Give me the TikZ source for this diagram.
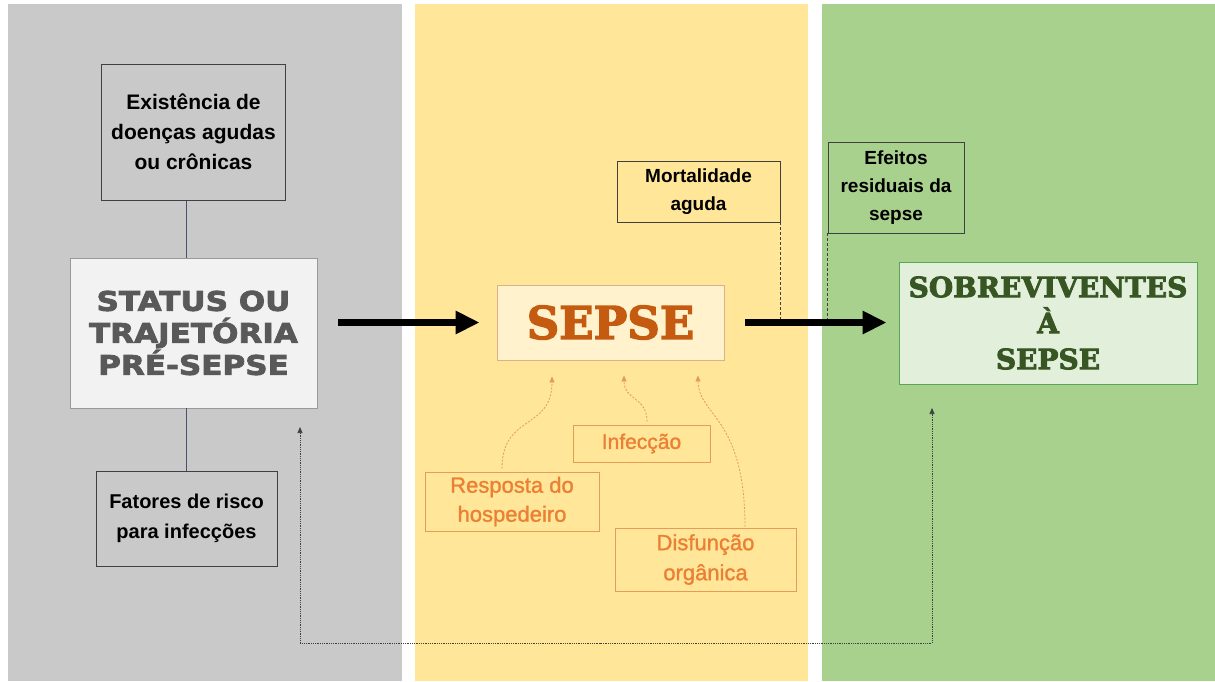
\documentclass[tikz,border=0pt]{standalone}
\usepackage{fontspec}
\setmainfont{Liberation Sans}
\newfontfamily\heavysans{DejaVu Sans}[FakeStretch=1.15,FakeBold=3]
\newfontfamily\heavyserif{DejaVu Serif}[FakeBold=3]
\newfontfamily\mediumsans{Liberation Sans}[FakeBold=1.2]
\usepackage{tikz}
\usetikzlibrary{positioning}
\usetikzlibrary{arrows.meta}

\definecolor{panelgray}{HTML}{C9C9C9}
\definecolor{panelyellow}{HTML}{FFE699}
\definecolor{panelgreen}{HTML}{A9D18E}
\definecolor{boxline}{HTML}{404040}
\definecolor{stemline}{HTML}{44546A}
\definecolor{statusfill}{HTML}{F2F2F2}
\definecolor{statustext}{HTML}{595959}
\definecolor{sepsefill}{HTML}{FFF2CC}
\definecolor{sepsetext}{HTML}{C55A11}
\definecolor{sobrevfill}{HTML}{E2EFDA}
\definecolor{sobrevtext}{HTML}{375623}
\definecolor{orangeline}{HTML}{E59C55}
\definecolor{orangetext}{HTML}{EB8034}

\begin{document}
\begin{tikzpicture}[x=1pt, y=-1pt,
                labelbox/.style={rectangle, draw=boxline, line width=0.9pt, align=center, inner sep=0pt, font=\bfseries\fontsize{20}{29}\selectfont},
                orangebox/.style={rectangle, draw=orangeline, line width=0.9pt, align=center, inner sep=0pt, text=orangetext, font=\mediumsans\fontsize{21}{30}\selectfont},
                mainbox/.style={rectangle, line width=0.9pt, align=center, inner sep=0pt},
                bigarrow/.style={line width=7pt, -{Triangle[length=24pt,width=22pt]}},
                orangearrow/.style={orangeline, line width=0.8pt, dash pattern=on 2pt off 1.5pt, -{Triangle[length=6pt,width=5pt]}},
            ]
            % Panels
            \useasboundingbox (0,0) rectangle (1215,681);
            \fill[white] (0,0) rectangle (1215,681);
            \fill[panelgray] (8,4) rectangle (402,681);
            \fill[panelyellow] (415,4) rectangle (808,681);
            \fill[panelgreen] (822,4) rectangle (1215,681);

            % Nodes
            \node[mainbox, draw=gray!80, fill=statusfill, text=statustext, minimum width=247pt, minimum height=150pt,
                  font=\heavysans\bfseries\fontsize{27}{32}\selectfont]
                                    (status)    at (193.5,333)          {STATUS OU\\TRAJETÓRIA\\PRÉ-SEPSE};
            \node[labelbox, fill=panelgray, minimum width=184pt, minimum height=136pt, font=\bfseries\fontsize{21}{30}\selectfont]
                                    (exist)     [above=57pt of status]  {Existência de\\doenças agudas\\ou crônicas};
            \node[labelbox, fill=panelgray, minimum width=181pt, minimum height=95pt, font=\bfseries\fontsize{20}{30}\selectfont]
                                    (fatores)   at (186.5,518.5)        {Fatores de risco\\para infecções};

            \node[mainbox, draw=brown!60, fill=sepsefill, text=sepsetext, minimum width=227pt, minimum height=75pt,
                  font=\heavyserif\bfseries\fontsize{45}{50}\selectfont]
                                    (sepse)     at (610.5,322.5)        {SEPSE};
            \node[labelbox, minimum width=163pt, minimum height=61pt, font=\bfseries\fontsize{19}{28}\selectfont]
                                    (mort)      at (698.5,191.5)        {Mortalidade\\aguda};
            \node[orangebox, minimum width=137pt, minimum height=37pt]
                                    (infec)     at (641.5,443.5)        {Infecção};
            \node[orangebox, minimum width=174pt, minimum height=59pt, font=\mediumsans\fontsize{22}{29}\selectfont]
                                    (resp)      at (512,501.5)          {Resposta do\\hospedeiro};
            \node[orangebox, minimum width=181pt, minimum height=63pt, font=\mediumsans\fontsize{22}{30}\selectfont]
                                    (disf)      at (705.5,559.5)        {Disfunção\\orgânica};

            \node[labelbox, fill=panelgreen, minimum width=136pt, minimum height=91pt, font=\bfseries\fontsize{19}{28}\selectfont]
                                    (efeitos)   at (896,187.5)          {Efeitos\\residuais da\\sepse};
            \node[mainbox, draw=green!30!gray, fill=sobrevfill, text=sobrevtext, minimum width=298pt, minimum height=122pt,
                  font=\heavyserif\bfseries\fontsize{28}{36}\selectfont]
                                    (sobrev)    at (1048,323)           {SOBREVIVENTES\\À\\SEPSE};

            \coordinate (fb_left)   at (300,427);
            \coordinate (fb_bottom) at (600,643);
            \coordinate (fb_right)  at (932,408);

            %Lines
            \draw[stemline, line width=0.8pt] (exist.south -| fatores.north) -- (status.north -| fatores.north);
            \draw[stemline, line width=0.8pt] (status.south -| fatores.north) -- (fatores.north);

            \draw[boxline, line width=0.7pt, dash pattern=on 3pt off 2pt] (mort.south east) -- (mort.south east |- sepse.east);
            \draw[boxline, line width=0.7pt, dash pattern=on 3pt off 2pt] (efeitos.south west) -- (efeitos.south west |- sepse.east);

            \draw[bigarrow, shorten <=21pt, shorten >=17pt] (sepse.west -| status.east) -- (sepse.west);
            \draw[bigarrow, shorten <=21pt, shorten >=12pt] (sepse.east) -- (sobrev.west |- sepse.east);

            \draw[orangearrow] ([xshift=-10pt,yshift=3pt]resp.north) .. controls +(0,-55) and +(0,54) .. ([xshift=-58.5pt,yshift=-16pt]sepse.south);
            \draw[orangearrow] ([xshift=5.5pt,yshift=3pt]infec.north) .. controls +(0,-25) and +(0,25) .. ([xshift=13.5pt,yshift=-15pt]sepse.south);
            \draw[orangearrow] ([xshift=39.5pt,yshift=1pt]disf.north) .. controls +(0,-110) and +(0,40) .. ([xshift=87.5pt,yshift=-15pt]sepse.south);

            \draw[boxline, line width=0.7pt, dash pattern=on 1pt off 0.8pt, {Triangle[length=6pt,width=5pt]}-{Triangle[length=6pt,width=5pt]}]
                (fb_left) |- (fb_bottom) -| (fb_right);
        \end{tikzpicture}
\end{document}
